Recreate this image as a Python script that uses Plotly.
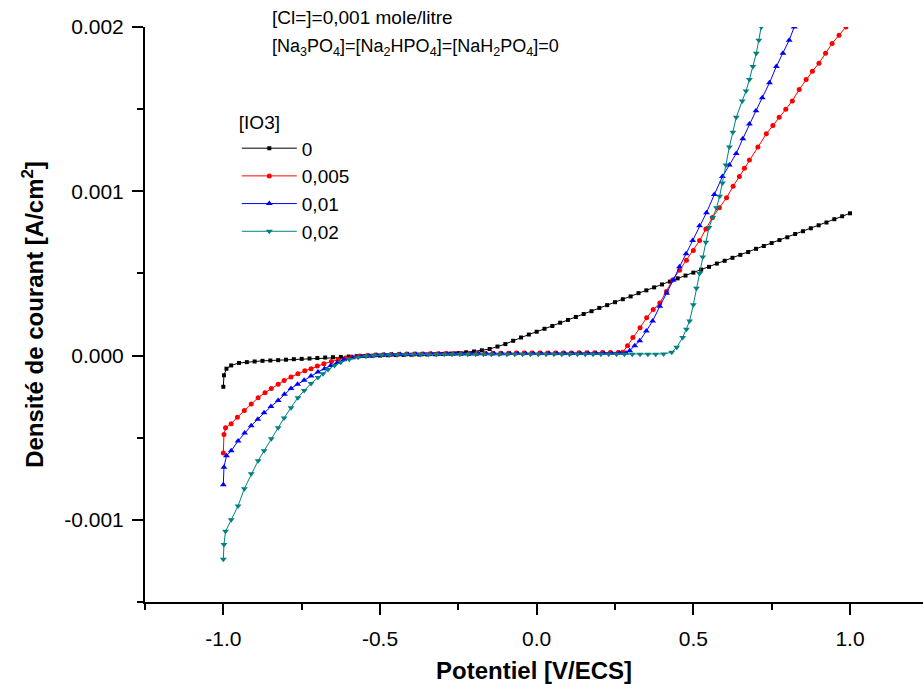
import plotly.graph_objects as go

# ---------------- data ----------------
series_names = ["0", "0,005", "0,01", "0,02"]

x_0 = [-1.000, -0.998, -0.990, -0.975, -0.950, -0.925, -0.900, -0.875, -0.850, -0.825,
       -0.800, -0.775, -0.750, -0.725, -0.700, -0.675, -0.650, -0.625, -0.600, -0.575,
       -0.550, -0.525, -0.500, -0.475, -0.450, -0.425, -0.400, -0.375, -0.350, -0.325,
       -0.300, -0.275, -0.250, -0.225, -0.200, -0.175, -0.150, -0.125, -0.100, -0.075,
       -0.050, -0.025, 0.000, 0.025, 0.050, 0.075, 0.100, 0.125, 0.150, 0.175,
       0.200, 0.225, 0.250, 0.275, 0.300, 0.325, 0.350, 0.375, 0.400, 0.425,
       0.450, 0.475, 0.500, 0.525, 0.550, 0.575, 0.600, 0.625, 0.650, 0.675,
       0.700, 0.725, 0.750, 0.775, 0.800, 0.825, 0.850, 0.875, 0.900, 0.925,
       0.950, 0.975, 1.000]
y_0 = [-0.00019, -0.00012, -0.00008, -0.00006, -0.000045, -0.00004, -0.000036, -0.000032, -0.00003, -0.000028,
       -0.000025, -0.000022, -0.00002, -0.000018, -0.000015, -0.000012, -0.00001, -0.000008, -0.000006, -0.000004,
       -0.000003, -0.000001, 0.0, 0.000002, 0.000003, 0.000004, 0.000005, 0.000006, 0.000007, 0.000008,
       0.00001, 0.000012, 0.000015, 0.00002, 0.000025, 0.000032, 0.00004, 0.000055, 0.00007, 0.00009,
       0.00011, 0.000128, 0.000145, 0.000163, 0.00018, 0.0002, 0.000217, 0.000235, 0.000253, 0.00027,
       0.00029, 0.000307, 0.000325, 0.000343, 0.00036, 0.00038, 0.000397, 0.000415, 0.000433, 0.00045,
       0.00047, 0.000487, 0.000505, 0.000523, 0.00054, 0.00056, 0.000577, 0.000595, 0.000613, 0.00063,
       0.00065, 0.000667, 0.000685, 0.000703, 0.00072, 0.00074, 0.000757, 0.000775, 0.000793, 0.00081,
       0.00083, 0.000848, 0.000866]

x_005 = [-1.000, -0.998, -0.993, -0.975, -0.955, -0.933, -0.911, -0.889, -0.867, -0.847,
         -0.825, -0.806, -0.784, -0.762, -0.740, -0.720, -0.700, -0.679, -0.655, -0.634,
         -0.610, -0.590, -0.565, -0.540, -0.515, -0.490, -0.465, -0.440, -0.415, -0.390,
         -0.365, -0.340, -0.315, -0.290, -0.265, -0.240, -0.215, -0.190, -0.165, -0.140,
         -0.115, -0.090, -0.065, -0.040, -0.015, 0.010, 0.035, 0.060, 0.085, 0.110,
         0.135, 0.160, 0.185, 0.210, 0.235, 0.260, 0.275, 0.290, 0.307, 0.330,
         0.351, 0.372, 0.393, 0.414, 0.434, 0.456, 0.478, 0.500, 0.520, 0.540,
         0.561, 0.583, 0.606, 0.627, 0.647, 0.663, 0.679, 0.706, 0.733, 0.754,
         0.774, 0.795, 0.816, 0.838, 0.860, 0.880, 0.901, 0.922, 0.943, 0.965,
         0.987, 1.000]
y_005 = [-0.000593, -0.00048, -0.00044, -0.000415, -0.000375, -0.000335, -0.000295, -0.000256, -0.000226, -0.0002,
         -0.000175, -0.000152, -0.00013, -0.00011, -0.000093, -0.00008, -0.000064, -0.00005, -0.000036, -0.000025,
         -0.000015, -0.000008, -0.000003, 0.0, 0.000003, 0.000005, 0.000007, 0.000008, 0.000009, 0.00001,
         0.00001, 0.000011, 0.000011, 0.000012, 0.000012, 0.000012, 0.000013, 0.000013, 0.000013, 0.000014,
         0.000014, 0.000014, 0.000015, 0.000015, 0.000015, 0.000015, 0.000016, 0.000016, 0.000016, 0.000016,
         0.000017, 0.000017, 0.000017, 0.000018, 0.000018, 0.000018, 0.00002, 0.00006, 0.00011, 0.00017,
         0.00023, 0.00028, 0.00032, 0.00039, 0.00046, 0.00052, 0.00058, 0.00064, 0.0007, 0.00077,
         0.00084, 0.0009, 0.00096, 0.00103, 0.00109, 0.00114, 0.00119, 0.00127, 0.00135, 0.0014,
         0.00145, 0.0015, 0.00155, 0.00162, 0.00168, 0.00173, 0.00178, 0.00184, 0.0019, 0.00195,
         0.002, 0.00203]

x_01 = [-1.000, -0.998, -0.990, -0.975, -0.953, -0.932, -0.911, -0.890, -0.870, -0.848,
        -0.825, -0.805, -0.784, -0.763, -0.742, -0.720, -0.698, -0.677, -0.657, -0.636,
        -0.615, -0.588, -0.560, -0.535, -0.510, -0.485, -0.460, -0.435, -0.410, -0.385,
        -0.360, -0.335, -0.310, -0.285, -0.260, -0.235, -0.210, -0.185, -0.160, -0.135,
        -0.110, -0.085, -0.060, -0.035, -0.010, 0.015, 0.040, 0.065, 0.090, 0.115,
        0.140, 0.165, 0.190, 0.215, 0.240, 0.265, 0.285, 0.297, 0.313, 0.329,
        0.350, 0.370, 0.393, 0.415, 0.436, 0.456, 0.477, 0.498, 0.520, 0.542,
        0.567, 0.593, 0.615, 0.637, 0.658, 0.679, 0.700, 0.720, 0.743, 0.765,
        0.786, 0.806, 0.822, 0.830]
y_01 = [-0.000787, -0.00068, -0.00061, -0.00058, -0.00052, -0.000472, -0.000427, -0.000387, -0.000348, -0.00031,
        -0.000274, -0.000236, -0.0002, -0.000175, -0.00015, -0.000125, -0.0001, -0.00008, -0.00006, -0.000042,
        -0.000025, -0.000014, -0.000006, -0.000002, 0.000002, 0.000004, 0.000005, 0.000006, 0.000007, 0.000008,
        0.000008, 0.000009, 0.000009, 0.00001, 0.00001, 0.00001, 0.00001, 0.000011, 0.000011, 0.000011,
        0.000011, 0.000012, 0.000012, 0.000012, 0.000012, 0.000012, 0.000013, 0.000013, 0.000013, 0.000013,
        0.000013, 0.000014, 0.000014, 0.000014, 0.000014, 0.000015, 0.000016, 0.00003, 0.00006, 0.00009,
        0.00015, 0.00021, 0.0003, 0.00038, 0.00046, 0.00054, 0.00062, 0.0007, 0.00079, 0.00087,
        0.00098, 0.00109, 0.00116, 0.00123, 0.00132, 0.00141, 0.00149, 0.00157, 0.00166, 0.00176,
        0.00184, 0.00192, 0.002, 0.00203]

x_02 = [-1.000, -0.998, -0.993, -0.975, -0.953, -0.933, -0.911, -0.889, -0.870, -0.847,
        -0.825, -0.806, -0.784, -0.762, -0.742, -0.720, -0.698, -0.682, -0.666, -0.645,
        -0.625, -0.598, -0.570, -0.545, -0.520, -0.495, -0.470, -0.445, -0.420, -0.395,
        -0.370, -0.345, -0.320, -0.295, -0.270, -0.245, -0.220, -0.195, -0.170, -0.145,
        -0.120, -0.095, -0.070, -0.045, -0.020, 0.005, 0.030, 0.055, 0.080, 0.105,
        0.130, 0.155, 0.180, 0.205, 0.230, 0.255, 0.280, 0.305, 0.330, 0.355,
        0.380, 0.405, 0.431, 0.447, 0.466, 0.478, 0.488, 0.500, 0.510, 0.520,
        0.530, 0.540, 0.550, 0.562, 0.574, 0.584, 0.593, 0.604, 0.615, 0.626,
        0.637, 0.656, 0.668, 0.679, 0.690, 0.701, 0.709, 0.717, 0.720]
y_02 = [-0.00124, -0.00115, -0.00107, -0.001, -0.000915, -0.00081, -0.00072, -0.00064, -0.00058, -0.000506,
        -0.00044, -0.00038, -0.000317, -0.000256, -0.000213, -0.00017, -0.000134, -0.00011, -0.000085, -0.00006,
        -0.00004, -0.000022, -0.00001, -0.000004, 0.0, 0.000003, 0.000004, 0.000005, 0.000006, 0.000006,
        0.000007, 0.000007, 0.000007, 0.000008, 0.000008, 0.000008, 0.000008, 0.000008, 0.000008, 0.000008,
        0.000008, 0.000008, 0.000008, 0.000008, 0.000008, 0.000008, 0.000008, 0.000008, 0.000008, 0.000008,
        0.000008, 0.000008, 0.000008, 0.000008, 0.000008, 0.000008, 0.000008, 0.000008, 0.000008, 0.000008,
        0.000008, 0.00001, 0.00002, 0.00005, 0.00011, 0.00016, 0.00021, 0.00031, 0.00041, 0.0005,
        0.0006, 0.00069, 0.00078, 0.00084, 0.0009, 0.00097, 0.00105, 0.00116, 0.00127, 0.00136,
        0.00145, 0.00155, 0.00161, 0.00168, 0.00176, 0.00184, 0.00192, 0.002, 0.00204]

x_tickvals = [-1.0, -0.5, 0.0, 0.5, 1.0]
x_ticktext = ["-1.0", "-0.5", "0.0", "0.5", "1.0"]
y_tickvals = [-0.001, 0.0, 0.001, 0.002]
y_ticktext = ["-0.001", "0.000", "0.001", "0.002"]

# ---------------- styling ----------------
FONT = "Liberation Sans, Arial, sans-serif"
colors = ["#000000", "#ff0000", "#0000ff", "#008080"]
symbols = ["square", "circle", "triangle-up", "triangle-down"]
msizes = [4, 5, 6, 6]

xs = [x_0, x_005, x_01, x_02]
ys = [y_0, y_005, y_01, y_02]

fig = go.Figure()
for name, xv, yv, c, s, ms in zip(series_names, xs, ys, colors, symbols, msizes):
    fig.add_trace(go.Scatter(
        x=xv, y=yv, name=name, mode="lines+markers",
        line=dict(color=c, width=1),
        marker=dict(symbol=s, size=ms, color=c, line=dict(width=0)),
    ))

axis_common = dict(
    showline=True, linecolor="black", linewidth=2,
    ticks="outside", tickcolor="black", tickwidth=2, ticklen=11,
    showgrid=False, zeroline=False, mirror=False,
    tickfont=dict(family=FONT, size=21, color="black"),
)

fig.update_layout(
    width=923, height=684,
    margin=dict(l=145, r=0, t=27, b=82),
    paper_bgcolor="white", plot_bgcolor="white",
    font=dict(family=FONT, color="black"),
    xaxis=dict(
        range=[-1.25, 1.233],
        tickmode="array", tickvals=x_tickvals, ticktext=x_ticktext,
        minor=dict(ticks="outside", ticklen=6, tickwidth=2, tickcolor="black",
                   tickmode="linear", tick0=-1.25, dtick=0.25, showgrid=False),
        ticklabelstandoff=6,
        title=dict(text="<b>Potentiel [V/ECS]</b>", font=dict(family=FONT, size=24), standoff=14),
        **axis_common,
    ),
    yaxis=dict(
        range=[-0.0015, 0.002],
        tickmode="array", tickvals=y_tickvals, ticktext=y_ticktext,
        minor=dict(ticks="outside", ticklen=6, tickwidth=2, tickcolor="black",
                   tickmode="linear", tick0=-0.0015, dtick=0.0005, showgrid=False),
        ticklabelstandoff=4,
        title=dict(text="<b>Densité de courant [A/cm<sup>2</sup>]</b>", font=dict(family=FONT, size=24), standoff=14),
        **axis_common,
    ),
    legend=dict(
        x=0.118, y=0.865, xanchor="left", yanchor="top",
        bgcolor="rgba(0,0,0,0)", borderwidth=0,
        font=dict(family=FONT, size=19, color="black"),
        title=dict(text="[IO3]", font=dict(family=FONT, size=19, color="black")),
        tracegroupgap=0, itemwidth=55,
    ),
    showlegend=True,
)

fig.add_annotation(
    xref="paper", yref="paper", x=(270 - 145) / 778, y=1.0 + (27 - 17) / 575,
    xanchor="left", yanchor="middle", showarrow=False, align="left",
    text="[Cl=]=0,001 mole/litre",
    font=dict(family=FONT, size=19, color="black"),
)
fig.add_annotation(
    xref="paper", yref="paper", x=(270 - 145) / 778, y=1.0 - (47 - 27) / 575,
    xanchor="left", yanchor="middle", showarrow=False, align="left",
    text="[Na<sub>3</sub>PO<sub>4</sub>]=[Na<sub>2</sub>HPO<sub>4</sub>]=[NaH<sub>2</sub>PO<sub>4</sub>]=0",
    font=dict(family=FONT, size=18, color="black"),
)

fig.write_html("out.html")
